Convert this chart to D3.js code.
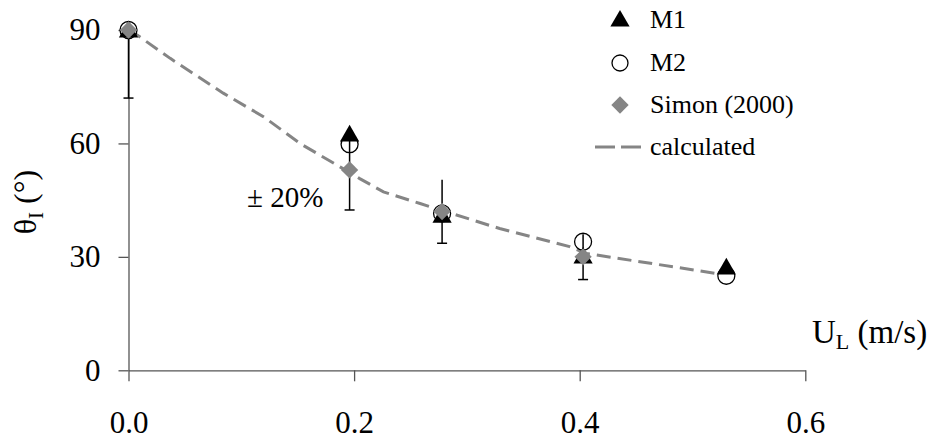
<!DOCTYPE html>
<html>
<head>
<meta charset="utf-8">
<script src="https://cdn.jsdelivr.net/npm/d3@7"></script>
<style>
  html, body { margin: 0; padding: 0; background: #fff; }
</style>
</head>
<body>
<svg id="chart" width="933" height="441" font-family="Liberation Serif"></svg>
<script>
// ---- data ----
const xTicks = [0.0, 0.2, 0.4, 0.6];
const yTicks = [0, 30, 60, 90];

const m1U = [0, 0.196, 0.278, 0.403, 0.530];
const m1Theta = [89.5, 62, 40.5, 29.7, 26.8];

const m2U = [0, 0.196, 0.278, 0.403, 0.530];
const m2Theta = [90, 59.8, 41.5, 34, 25];

const simonU = [0, 0.196, 0.278, 0.403];
const simonTheta = [90, 53, 42, 30];
const simonErrLow = [72, 42.4, 33.6, 24];
const simonErrHigh = [90, 63.6, 50.4, 36];

const calcU = [0, 0.008, 0.037, 0.084, 0.120, 0.152, 0.1875, 0.205, 0.226, 0.2585, 0.329, 0.391, 0.406, 0.5215];
const calcTheta = [90, 88.6, 82.5, 73.3, 67.0, 60.0, 53.8, 50.7, 47.2, 44.1, 37.5, 32.7, 30.9, 25.6];

const legendLabels = ["M1", "M2", "Simon (2000)", "calculated"];

// ---- layout ----
const FONT = "'Liberation Serif', monospace";
function serif(sel, size) {
  return sel.attr("font-family", "Liberation Serif").style("font-family", FONT)
    .attr("font-size", size);
}
const svg = d3.select("#chart");
const x = d3.scaleLinear().domain([0, 0.6]).range([128.5, 805.3]);
const y = d3.scaleLinear().domain([0, 90]).range([370.3, 30]);

const axisColor = "#555";
const grey = "#858585";

// x axis
const xAxis = svg.append("g").attr("transform", `translate(0,${y(0)})`)
  .call(d3.axisBottom(x).tickValues(xTicks).tickFormat(d3.format(".1f")).tickSize(11).tickPadding(30).tickSizeOuter(0));
xAxis.attr("font-family", "Liberation Serif").attr("font-size", 31);
xAxis.select(".domain").attr("stroke", axisColor).attr("stroke-width", 1.3);
xAxis.selectAll(".tick line").attr("stroke", axisColor).attr("stroke-width", 1.3);
serif(xAxis.selectAll(".tick text"), 31).attr("fill", "#000");

// y axis
const yAxis = svg.append("g").attr("transform", `translate(${x(0)},0)`)
  .call(d3.axisLeft(y).tickValues(yTicks).tickSize(10).tickPadding(18).tickSizeOuter(0));
yAxis.attr("font-family", "Liberation Serif").attr("font-size", 31);
yAxis.select(".domain").attr("stroke", axisColor).attr("stroke-width", 1.3);
yAxis.selectAll(".tick line").attr("stroke", axisColor).attr("stroke-width", 1.3);
serif(yAxis.selectAll(".tick text"), 31).attr("fill", "#000");

// calculated dashed line
const calcData = calcU.map((u, i) => [u, calcTheta[i]]);
svg.append("path")
  .datum(calcData)
  .attr("d", d3.line().x(d => x(d[0])).y(d => y(d[1])))
  .attr("fill", "none").attr("stroke", grey).attr("stroke-width", 3)
  .attr("stroke-dasharray", "14,7");

// M2 circles
const m2 = m2U.map((u, i) => [u, m2Theta[i]]);
svg.append("g").selectAll("circle").data(m2).join("circle")
  .attr("cx", d => x(d[0])).attr("cy", d => y(d[1])).attr("r", 8.5)
  .attr("fill", "#fff").attr("stroke", "#000").attr("stroke-width", 1.3);

// error bars (Simon)
const eb = simonU.map((u, i) => ({u, lo: simonErrLow[i], hi: simonErrHigh[i]}));
const ebG = svg.append("g").attr("stroke", "#000").attr("stroke-width", 1.5);
ebG.selectAll("line.v").data(eb).join("line").attr("class", "v")
  .attr("x1", d => x(d.u)).attr("x2", d => x(d.u))
  .attr("y1", d => y(d.lo)).attr("y2", d => y(d.hi));
ebG.selectAll("line.c").data(eb).join("line").attr("class", "c")
  .attr("x1", d => x(d.u) - 5).attr("x2", d => x(d.u) + 5)
  .attr("y1", d => y(d.lo)).attr("y2", d => y(d.lo));

// M1 triangles
const m1 = m1U.map((u, i) => [u, m1Theta[i]]);
const tri = d3.symbol().type(d3.symbolTriangle).size(160);
svg.append("g").selectAll("path").data(m1).join("path")
  .attr("d", tri).attr("transform", d => `translate(${x(d[0])},${y(d[1])})`)
  .attr("fill", "#000");

// Simon diamonds
const sim = simonU.map((u, i) => [u, simonTheta[i]]);
const dia = d3.symbol().type(d3.symbolSquare).size(150);
svg.append("g").selectAll("path").data(sim).join("path")
  .attr("d", dia).attr("transform", d => `translate(${x(d[0])},${y(d[1])}) rotate(45)`)
  .attr("fill", grey);

// annotation
serif(svg.append("text").attr("x", 247).attr("y", 207), 29).text("± 20%");

// x title
const xt = serif(svg.append("text").attr("x", 812).attr("y", 343), 33);
xt.append("tspan").text("U");
xt.append("tspan").attr("font-size", 22).attr("dy", 6).text("L");
xt.append("tspan").attr("dy", -6).text(" (m/s)");

// y title
const yt = serif(svg.append("text").attr("transform", "translate(36,202) rotate(-90)")
  .attr("text-anchor", "middle"), 32);
yt.append("tspan").text("θ");
yt.append("tspan").attr("font-size", 21).attr("dy", 7).text("I");
yt.append("tspan").attr("dy", -7).text(" (°)");

// legend
const lg = svg.append("g");
const rows = [20, 63, 105, 147];
lg.append("path").attr("d", tri).attr("transform", `translate(620,${rows[0] + 1})`).attr("fill", "#000");
lg.append("circle").attr("cx", 620).attr("cy", rows[1]).attr("r", 8).attr("fill", "#fff").attr("stroke", "#000").attr("stroke-width", 1.3);
lg.append("path").attr("d", dia).attr("transform", `translate(620,${rows[2]}) rotate(45)`).attr("fill", grey);
lg.append("line").attr("x1", 595).attr("x2", 641).attr("y1", rows[3]).attr("y2", rows[3])
  .attr("stroke", grey).attr("stroke-width", 3).attr("stroke-dasharray", "20,6");
serif(lg.selectAll("text").data(legendLabels).join("text")
  .attr("x", 650).attr("y", (d, i) => rows[i] + 8), 26).text(d => d);
</script>
</body>
</html>
